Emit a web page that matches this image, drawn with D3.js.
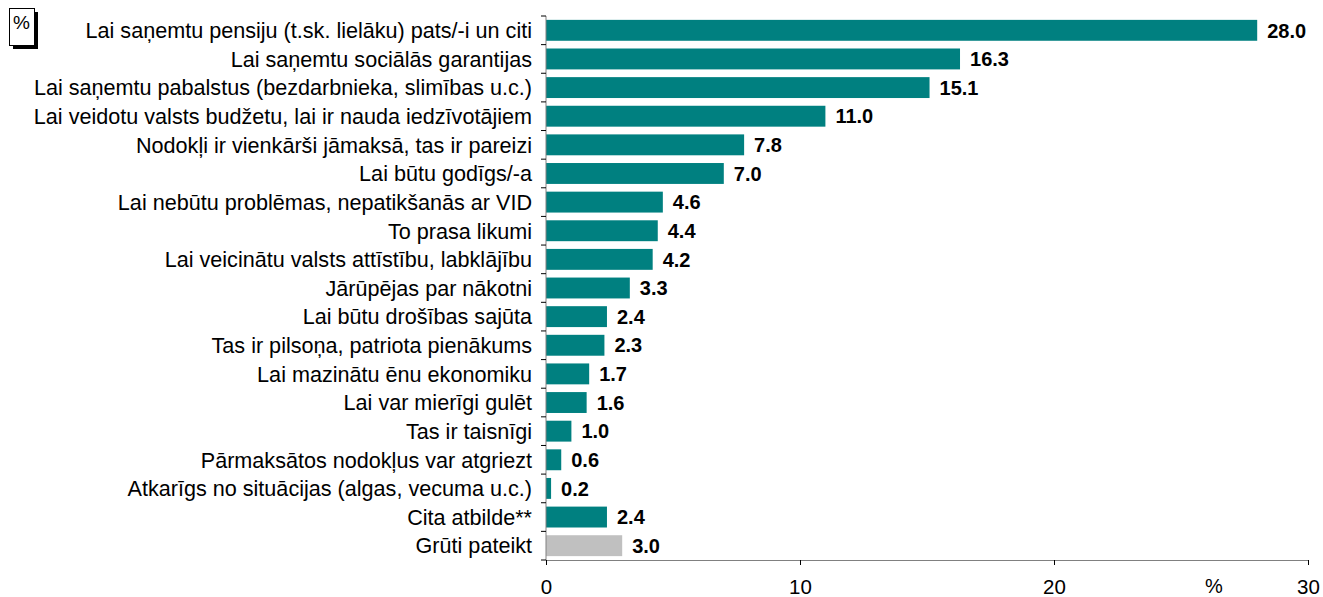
<!DOCTYPE html>
<html>
<head>
<meta charset="utf-8">
<script src="https://cdn.jsdelivr.net/npm/d3@7"></script>
<style>
  body { margin: 0; background: #fff; }
  text { font-family: "Liberation Sans", Arial, sans-serif; }
</style>
</head>
<body>
<div id="chart"></div>
<script>
var svgWidth = 1323;
var svgHeight = 597;

var margin = { top: 16, right: 15, bottom: 37, left: 546 };
var width = 762;
var height = svgHeight - margin.top - margin.bottom;

// data
var categories = [
  "Lai saņemtu pensiju (t.sk. lielāku) pats/-i un citi",
  "Lai saņemtu sociālās garantijas",
  "Lai saņemtu pabalstus (bezdarbnieka, slimības u.c.)",
  "Lai veidotu valsts budžetu, lai ir nauda iedzīvotājiem",
  "Nodokļi ir vienkārši jāmaksā, tas ir pareizi",
  "Lai būtu godīgs/-a",
  "Lai nebūtu problēmas, nepatikšanās ar VID",
  "To prasa likumi",
  "Lai veicinātu valsts attīstību, labklājību",
  "Jārūpējas par nākotni",
  "Lai būtu drošības sajūta",
  "Tas ir pilsoņa, patriota pienākums",
  "Lai mazinātu ēnu ekonomiku",
  "Lai var mierīgi gulēt",
  "Tas ir taisnīgi",
  "Pārmaksātos nodokļus var atgriezt",
  "Atkarīgs no situācijas (algas, vecuma u.c.)",
  "Cita atbilde**",
  "Grūti pateikt"
];
var values = [28.0, 16.3, 15.1, 11.0, 7.8, 7.0, 4.6, 4.4, 4.2, 3.3, 2.4, 2.3, 1.7, 1.6, 1.0, 0.6, 0.2, 2.4, 3.0];
var xTicks = [0, 10, 20, 30];

var rows = categories.map(function(c, i) { return { name: c, value: values[i] }; });

var svg = d3.select("#chart")
  .append("svg")
  .attr("width", svgWidth)
  .attr("height", svgHeight);

var chartGroup = svg.append("g")
  .attr("transform", `translate(${margin.left}, ${margin.top})`);

var xScale = d3.scaleLinear().domain([0, 30]).range([0, width]);

var yScale = d3.scaleBand()
  .domain(categories)
  .range([0, height])
  .paddingInner(0.27)
  .paddingOuter(0.135);

// bars
chartGroup.selectAll("rect.bar")
  .data(rows)
  .enter()
  .append("rect")
  .attr("class", "bar")
  .attr("x", 0)
  .attr("y", d => yScale(d.name))
  .attr("width", d => xScale(d.value))
  .attr("height", yScale.bandwidth())
  .attr("fill", d => d.name === "Grūti pateikt" ? "#c0c0c0" : "#008080");

// value labels
chartGroup.selectAll("text.val")
  .data(rows)
  .enter()
  .append("text")
  .attr("class", "val")
  .attr("x", d => xScale(d.value) + 10)
  .attr("y", d => yScale(d.name) + yScale.bandwidth() / 2)
  .attr("dy", "0.36em")
  .attr("font-size", "20px")
  .attr("font-weight", "bold")
  .text(d => d.value.toFixed(1));

// category labels
chartGroup.selectAll("text.cat")
  .data(rows)
  .enter()
  .append("text")
  .attr("class", "cat")
  .attr("x", -14)
  .attr("y", d => yScale(d.name) + yScale.bandwidth() / 2)
  .attr("dy", "0.36em")
  .attr("text-anchor", "end")
  .attr("font-size", "21.6px")
  .text(d => d.name);

// y axis line and ticks between categories
var axisColor = "#808080";
chartGroup.append("line")
  .attr("x1", 0).attr("x2", 0)
  .attr("y1", 0).attr("y2", height)
  .attr("stroke", axisColor);

var bounds = d3.range(categories.length + 1).map(i => i * height / categories.length);
chartGroup.selectAll("line.ytick")
  .data(bounds)
  .enter()
  .append("line")
  .attr("class", "ytick")
  .attr("x1", -5).attr("x2", 0)
  .attr("y1", d => d).attr("y2", d => d)
  .attr("stroke", "#000");

// x axis
var bottomAxis = d3.axisBottom(xScale)
  .tickValues(xTicks)
  .tickSize(5)
  .tickPadding(14)
  .tickFormat(d3.format("d"));

var xAxis = chartGroup.append("g")
  .attr("transform", `translate(0, ${height})`)
  .call(bottomAxis);

xAxis.select(".domain").attr("stroke", axisColor);
xAxis.selectAll(".tick line").attr("stroke", "#000");
xAxis.selectAll(".tick text")
  .attr("font-size", "20.5px")
  .attr("font-family", "Liberation Sans, Arial, sans-serif")
  .attr("fill", "#000");

// "%" unit label on x axis
chartGroup.append("text")
  .attr("x", xScale(26.3))
  .attr("y", height + 19)
  .attr("dy", "0.71em")
  .attr("text-anchor", "middle")
  .attr("font-size", "20px")
  .text("%");

// boxed "%" at top left with shadow
svg.append("rect")
  .attr("x", 13).attr("y", 12)
  .attr("width", 25).attr("height", 37)
  .attr("fill", "#000");
svg.append("rect")
  .attr("x", 9.5).attr("y", 8.5)
  .attr("width", 25).attr("height", 37)
  .attr("fill", "#fff")
  .attr("stroke", "#000")
  .attr("stroke-width", 1);
svg.append("text")
  .attr("x", 21.5).attr("y", 28.5)
  .attr("text-anchor", "middle")
  .attr("font-size", "19px")
  .text("%");
</script>
</body>
</html>
